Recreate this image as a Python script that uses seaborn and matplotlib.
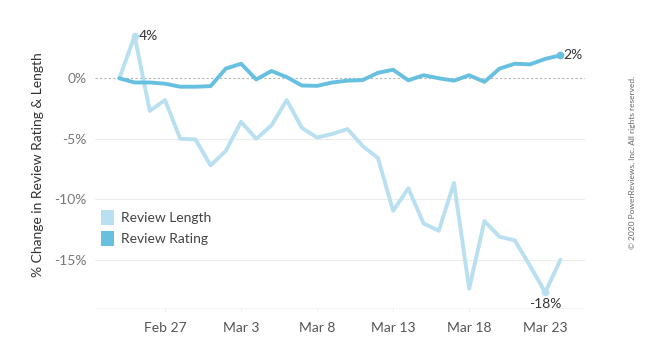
import numpy as np
import pandas as pd
import matplotlib
matplotlib.use("Agg")
import matplotlib.pyplot as plt
from matplotlib.patches import Patch
import seaborn as sns

dates = pd.date_range("2020-02-24", "2020-03-24", freq="D")

review_length = [0.0, 3.5, -2.7, -1.8, -5.0, -5.05, -7.2, -6.0, -3.6, -5.0,
                 -3.9, -1.8, -4.1, -4.9, -4.6, -4.2, -5.6, -6.6, -10.95, -9.1,
                 -12.0, -12.6, -8.65, -17.4, -11.8, -13.1, -13.4, -15.5, -17.7, -15.0]
review_rating = [0.0, -0.35, -0.35, -0.45, -0.7, -0.7, -0.65, 0.8, 1.2, -0.1,
                 0.6, 0.1, -0.6, -0.63, -0.35, -0.2, -0.15, 0.45, 0.7, -0.17,
                 0.25, 0.0, -0.2, 0.25, -0.3, 0.8, 1.2, 1.15, 1.6, 1.9]
series_names = ["Review Length", "Review Rating"]
colors = {"Review Length": "#b9e0f0", "Review Rating": "#67c0e0"}

tick_dates = ["2020-02-27", "2020-03-03", "2020-03-08", "2020-03-13", "2020-03-18", "2020-03-23"]
tick_labels = ["Feb 27", "Mar 3", "Mar 8", "Mar 13", "Mar 18", "Mar 23"]
y_ticks = [0, -5, -10, -15]
y_tick_labels = ["0%", "-5%", "-10%", "-15%"]

df = pd.DataFrame({
    "date": list(dates) * 2,
    "value": review_length + review_rating,
    "series": [series_names[0]] * len(dates) + [series_names[1]] * len(dates),
})

sns.set_theme(style="white")
plt.rcParams["font.family"] = ["Lato", "DejaVu Sans"]

fig = plt.figure(figsize=(6.6, 3.42), dpi=100)
ax = fig.add_axes([0.144, 0.099, 0.742, 0.842])

sns.lineplot(data=df, x="date", y="value", hue="series", palette=colors,
             linewidth=2.8, ax=ax, legend=False, sort=False)

# endpoint / extreme markers
i_max = int(np.argmax(review_length))
i_min = int(np.argmin(review_length))
ax.plot(dates[i_max], review_length[i_max], "o", color=colors["Review Length"], ms=4.5, zorder=5)
ax.plot(dates[i_min], review_length[i_min], "o", color=colors["Review Length"], ms=4.5, zorder=5)
ax.plot(dates[-1], review_rating[-1], "o", color=colors["Review Rating"], ms=4.5, zorder=5)

ax.annotate(f"{round(review_length[i_max]):.0f}%", (dates[i_max], review_length[i_max]),
            xytext=(3, 0), textcoords="offset points", ha="left", va="center",
            fontsize=10, color="#333333")
ax.annotate(f"{round(review_rating[-1]):.0f}%", (dates[-1], review_rating[-1]),
            xytext=(2, 0), textcoords="offset points", ha="left", va="center",
            fontsize=10, color="#333333")
ax.annotate(f"{round(review_length[i_min]):.0f}%", (dates[i_min], review_length[i_min]),
            xytext=(0, -4), textcoords="offset points", ha="center", va="top",
            fontsize=10, color="#333333")

# grid
for yv in y_ticks:
    if yv == 0:
        ax.axhline(yv, color="#b5b5b5", lw=0.8, ls=(0, (2, 2)), zorder=0)
    else:
        ax.axhline(yv, color="#ececec", lw=0.8, zorder=0)

ax.set_ylim(-19.0, 4.8)
ax.set_xlim(dates[0] - pd.Timedelta(days=1.6), dates[-1] + pd.Timedelta(days=1.6))

ax.set_yticks(y_ticks)
ax.set_yticklabels(y_tick_labels)
ax.set_xticks(pd.to_datetime(tick_dates))
ax.set_xticklabels(tick_labels)
ax.tick_params(axis="y", length=0, labelsize=10, labelcolor="#777777", pad=6)
ax.tick_params(axis="x", length=3, width=0.6, color="#ededed", labelsize=10,
               labelcolor="#555555", pad=7, direction="out", bottom=True)

for s in ["top", "right", "left"]:
    ax.spines[s].set_visible(False)
ax.spines["bottom"].set_color("#ededed")
ax.spines["bottom"].set_linestyle((0, (2, 2)))
ax.spines["bottom"].set_linewidth(0.6)

ax.set_xlabel("")
ax.set_ylabel("% Change in Review Rating & Length", fontsize=10, color="#333333", labelpad=7)

handles = [Patch(facecolor=colors[n], edgecolor="none", label=n) for n in series_names]
leg = ax.legend(handles=handles, loc="upper left", bbox_to_anchor=(0.0, 0.36),
                frameon=False, fontsize=10, handlelength=1.0, handleheight=1.3,
                handletextpad=0.5, labelspacing=0.4, borderaxespad=0.0)
for t in leg.get_texts():
    t.set_color("#444444")

fig.text(0.958, 0.526, "© 2020 PowerReviews, Inc. All rights reserved.", rotation=90,
         ha="center", va="center", fontsize=6, color="#666666")

fig.savefig("out.png", dpi=100, facecolor="white")
